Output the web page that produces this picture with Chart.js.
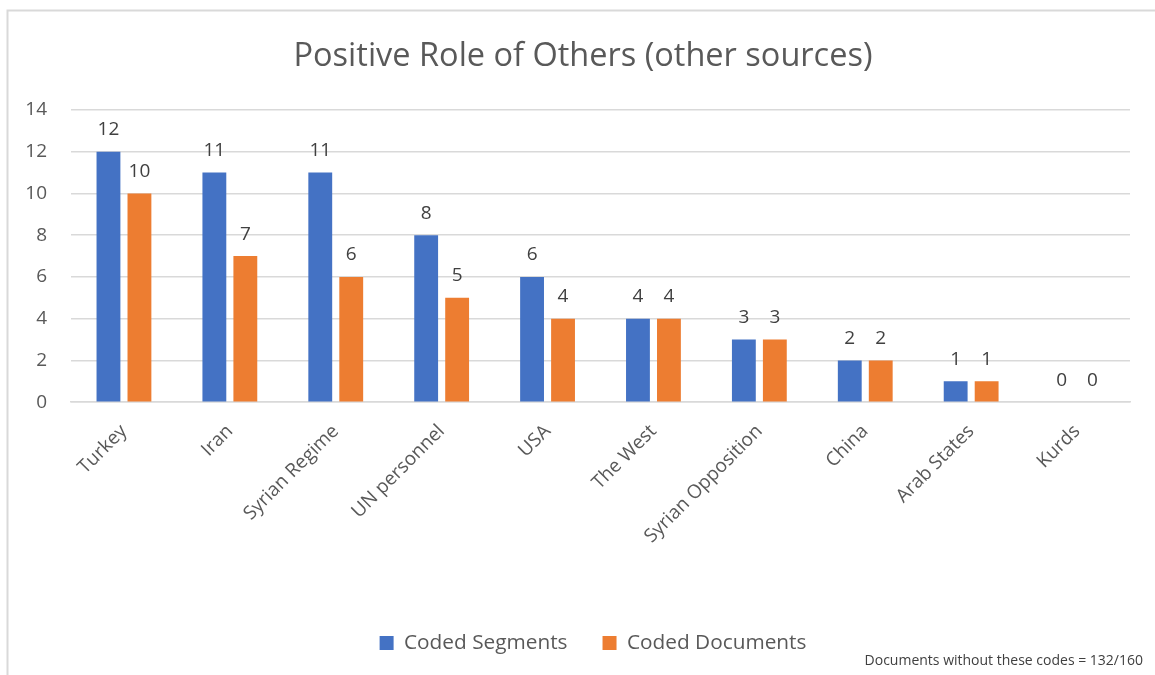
<!DOCTYPE html>
<html>
<head>
<meta charset="utf-8">
<title>Positive Role of Others (other sources)</title>
<script src="https://cdn.jsdelivr.net/npm/chart.js@4/dist/chart.umd.min.js"></script>
<style>
  html, body { margin: 0; padding: 0; background: #ffffff; }
  #wrap { position: relative; width: 1155px; height: 675px; }
  canvas { display: block; }
</style>
</head>
<body>
<div id="wrap"><canvas id="chart" width="1155" height="675"></canvas></div>
<script>
// Categories and counts
const categories = ["Turkey", "Iran", "Syrian Regime", "UN personnel", "USA", "The West", "Syrian Opposition", "China", "Arab States", "Kurds"];
const codedSegments = [12, 11, 11, 8, 6, 4, 3, 2, 1, 0];
const codedDocuments = [10, 7, 6, 5, 4, 4, 3, 2, 1, 0];
const yTicks = [0, 2, 4, 6, 8, 10, 12, 14];
const chartTitle = "Positive Role of Others (other sources)";
const footnote = "Documents without these codes = 132/160";

const FONT = "'Open Sans', 'Liberation Sans', sans-serif";
const TEXT = "#595959";
const GRID = "#d9d9d9";

// Frame lines along the top and left edge
const framePlugin = {
  id: "frame",
  beforeDraw(chart) {
    const ctx = chart.ctx;
    ctx.save();
    ctx.strokeStyle = GRID;
    ctx.lineWidth = 2;
    ctx.beginPath();
    ctx.moveTo(7.5, 675);
    ctx.lineTo(7.5, 10.5);
    ctx.lineTo(1155, 10.5);
    ctx.stroke();
    ctx.restore();
  }
};

// Center title and legend on the whole frame rather than the padded layout box
const centerBlocks = {
  id: "centerBlocks",
  afterLayout(chart) {
    if (chart.titleBlock) chart.titleBlock.left += 36;
    if (chart.legend) chart.legend.left += 56;
  }
};

// Value labels above each bar
const valueLabels = {
  id: "valueLabels",
  afterDatasetsDraw(chart) {
    const ctx = chart.ctx;
    ctx.save();
    ctx.font = "19px " + FONT;
    ctx.fillStyle = "#404040";
    ctx.textAlign = "center";
    ctx.textBaseline = "middle";
    chart.data.datasets.forEach((ds, i) => {
      const meta = chart.getDatasetMeta(i);
      meta.data.forEach((bar, j) => {
        ctx.fillText(String(ds.data[j]), bar.x, bar.y - 22);
      });
    });
    ctx.restore();
  }
};

// Note in the lower right corner
const notePlugin = {
  id: "note",
  afterDraw(chart) {
    const ctx = chart.ctx;
    ctx.save();
    ctx.font = "14px " + FONT;
    ctx.fillStyle = "#404040";
    ctx.textAlign = "right";
    ctx.textBaseline = "middle";
    ctx.fillText(footnote, 1143, 661);
    ctx.restore();
  }
};

new Chart(document.getElementById("chart"), {
  type: "bar",
  data: {
    labels: categories,
    datasets: [
      { label: "Coded Segments", data: codedSegments, backgroundColor: "#4472C4",
        barPercentage: 0.77, categoryPercentage: 0.585 },
      { label: "Coded Documents", data: codedDocuments, backgroundColor: "#ED7D31",
        barPercentage: 0.77, categoryPercentage: 0.585 }
    ]
  },
  options: {
    responsive: false,
    animation: false,
    layout: { padding: { top: 0, right: 25, bottom: 11.5, left: 0 } },
    plugins: {
      title: {
        display: true,
        text: chartTitle,
        color: TEXT,
        font: { family: FONT, size: 32.5, weight: "normal" },
        padding: { top: 37, bottom: 34 }
      },
      legend: {
        position: "bottom",
        labels: {
          color: TEXT,
          font: { family: FONT, size: 20.8 },
          boxWidth: 14,
          boxHeight: 14,
          padding: 35,
          useBorderRadius: false
        }
      },
      tooltip: { enabled: false }
    },
    scales: {
      x: {
        grid: { display: false, drawTicks: false },
        border: { color: GRID, width: 1.5 },
        ticks: {
          color: TEXT,
          font: { family: FONT, size: 19 },
          maxRotation: 45,
          minRotation: 45,
          padding: 18,
          autoSkip: false
        },
        afterFit(scale) { scale.height = 195.5; }
      },
      y: {
        min: 0,
        max: 14,
        afterBuildTicks(scale) { scale.ticks = yTicks.map(v => ({ value: v })); },
        grid: { color: GRID, lineWidth: 1.5, drawTicks: false },
        border: { display: false },
        ticks: {
          color: TEXT,
          font: { family: FONT, size: 19 },
          padding: 24
        },
        afterFit(scale) { scale.width = 71; }
      }
    }
  },
  plugins: [framePlugin, centerBlocks, valueLabels, notePlugin]
});
</script>
</body>
</html>
